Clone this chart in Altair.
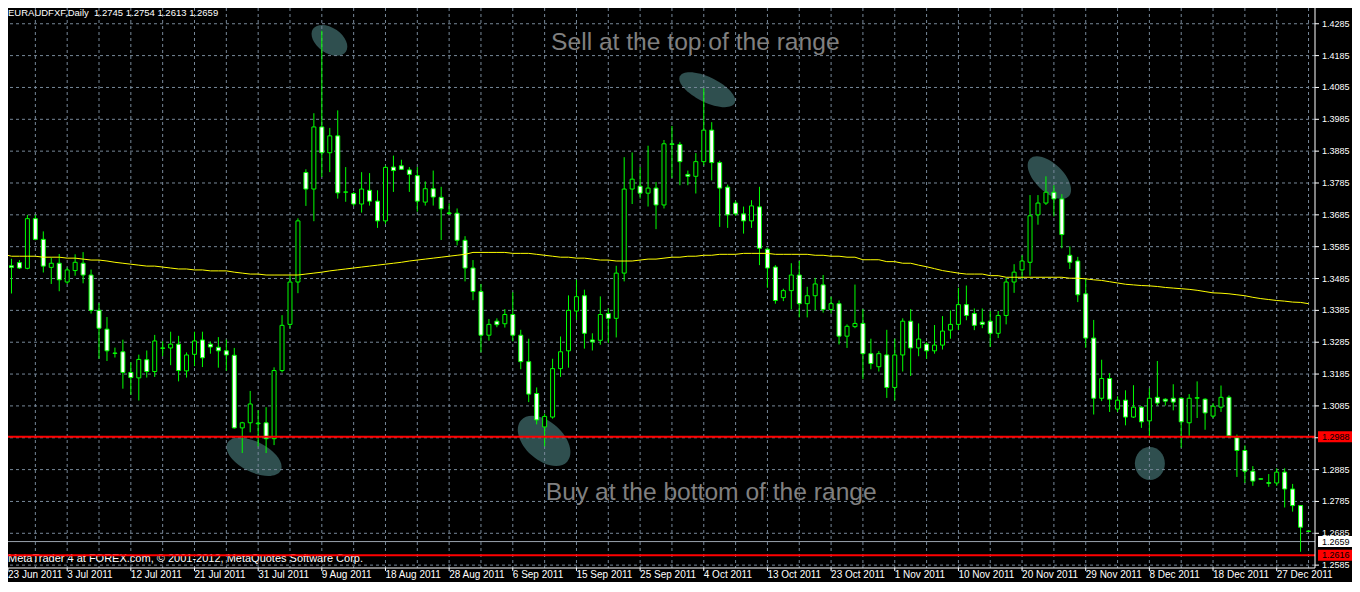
import altair as alt
import pandas as pd

# ---------------- data ----------------
dates = ["23 Jun 2011", "3 Jul 2011", "12 Jul 2011", "21 Jul 2011", "31 Jul 2011",
         "9 Aug 2011", "18 Aug 2011", "28 Aug 2011", "6 Sep 2011", "15 Sep 2011",
         "25 Sep 2011", "4 Oct 2011", "13 Oct 2011", "23 Oct 2011", "1 Nov 2011",
         "10 Nov 2011", "20 Nov 2011", "29 Nov 2011", "8 Dec 2011", "18 Dec 2011",
         "27 Dec 2011"]

opens = [1.3571, 1.3525, 1.3535, 1.3517, 1.3673, 1.3608, 1.3520, 1.3533, 1.3474, 1.3510,
         1.3533, 1.3496, 1.3385, 1.3326, 1.3251, 1.3255, 1.3190, 1.3173, 1.3230, 1.3193,
         1.3267, 1.3267, 1.3279, 1.3195, 1.3247, 1.3292, 1.3279, 1.3269, 1.3258, 1.3244,
         1.3016, 1.3032, 1.3029, 1.3032, 1.2982, 1.3196, 1.3341, 1.3474, 1.3818, 1.3766,
         1.3961, 1.3880, 1.3933, 1.3756, 1.3752, 1.3719, 1.3762, 1.3728, 1.3666, 1.3835,
         1.3839, 1.3826, 1.3808, 1.3725, 1.3767, 1.3740, 1.3691, 1.3690, 1.3605, 1.3518,
         1.3444, 1.3307, 1.3351, 1.3343, 1.3372, 1.3307, 1.3224, 1.3124, 1.3019, 1.3050,
         1.3202, 1.3258, 1.3383, 1.3431, 1.3292, 1.3291, 1.3375, 1.3360, 1.3502, 1.3766,
         1.3775, 1.3753, 1.3769, 1.3716, 1.3908, 1.3906, 1.3812, 1.3806, 1.3852, 1.3951,
         1.3849, 1.3772, 1.3722, 1.3688, 1.3666, 1.3710, 1.3577, 1.3521, 1.3425, 1.3447,
         1.3496, 1.3406, 1.3431, 1.3465, 1.3388, 1.3406, 1.3304, 1.3334, 1.3344, 1.3249,
         1.3208, 1.3245, 1.3143, 1.3245, 1.3351, 1.3267, 1.3279, 1.3258, 1.3276, 1.3323,
         1.3341, 1.3403, 1.3375, 1.3348, 1.3351, 1.3313, 1.3369, 1.3474, 1.3512, 1.3536,
         1.3685, 1.3722, 1.3756, 1.3735, 1.3558, 1.3540, 1.3437, 1.3298, 1.3109, 1.3171,
         1.3075, 1.3103, 1.3050, 1.3081, 1.3038, 1.3112, 1.3106, 1.3109, 1.3109, 1.3032,
         1.3109, 1.3106, 1.3053, 1.3081, 1.3112, 1.2985, 1.2945, 1.2880, 1.2856, 1.2844,
         1.2843, 1.2877, 1.2824, 1.2772, 1.2692]

highs = [1.3578, 1.3547, 1.3543, 1.3685, 1.3685, 1.3633, 1.3551, 1.3562, 1.3520, 1.3561,
         1.3568, 1.3513, 1.3407, 1.3364, 1.3268, 1.3293, 1.3222, 1.3246, 1.3259, 1.3308,
         1.3288, 1.3318, 1.3305, 1.3253, 1.3318, 1.3318, 1.3287, 1.3301, 1.3293, 1.3267,
         1.3035, 1.3132, 1.3071, 1.3081, 1.3206, 1.3370, 1.3494, 1.3674, 1.3828, 1.4004,
         1.4263, 1.3958, 1.4013, 1.3835, 1.3757, 1.3819, 1.3816, 1.3762, 1.3840, 1.3871,
         1.3858, 1.3835, 1.3835, 1.3790, 1.3824, 1.3773, 1.3721, 1.3705, 1.3618, 1.3543,
         1.3468, 1.3358, 1.3360, 1.3389, 1.3442, 1.3324, 1.3296, 1.3143, 1.3061, 1.3233,
         1.3303, 1.3432, 1.3481, 1.3450, 1.3313, 1.3429, 1.3391, 1.3525, 1.3866, 1.3881,
         1.3835, 1.3902, 1.3788, 1.3920, 1.3964, 1.3914, 1.3824, 1.3879, 1.4082, 1.3976,
         1.3855, 1.3780, 1.3729, 1.3711, 1.3731, 1.3773, 1.3582, 1.3527, 1.3453, 1.3533,
         1.3540, 1.3459, 1.3487, 1.3496, 1.3428, 1.3416, 1.3341, 1.3466, 1.3389, 1.3296,
         1.3257, 1.3324, 1.3296, 1.3360, 1.3389, 1.3344, 1.3285, 1.3339, 1.3367, 1.3385,
         1.3456, 1.3463, 1.3391, 1.3391, 1.3383, 1.3383, 1.3487, 1.3530, 1.3558, 1.3747,
         1.3747, 1.3806, 1.3778, 1.3750, 1.3586, 1.3553, 1.3484, 1.3355, 1.3230, 1.3188,
         1.3115, 1.3134, 1.3150, 1.3084, 1.3140, 1.3226, 1.3109, 1.3153, 1.3112, 1.3122,
         1.3162, 1.3109, 1.3094, 1.3149, 1.3118, 1.2995, 1.2961, 1.2896, 1.2857, 1.2871,
         1.2889, 1.2889, 1.2840, 1.2772, 1.2693]

lows = [1.3500, 1.3438, 1.3515, 1.3514, 1.3605, 1.3504, 1.3468, 1.3445, 1.3468, 1.3494,
        1.3470, 1.3375, 1.3233, 1.3226, 1.3237, 1.3139, 1.3120, 1.3102, 1.3174, 1.3176,
        1.3241, 1.3213, 1.3162, 1.3174, 1.3210, 1.3207, 1.3249, 1.3205, 1.3195, 1.3014,
        1.2937, 1.3002, 1.2958, 1.2937, 1.2962, 1.3190, 1.3329, 1.3439, 1.3713, 1.3665,
        1.3804, 1.3819, 1.3736, 1.3726, 1.3713, 1.3692, 1.3714, 1.3644, 1.3657, 1.3757,
        1.3826, 1.3757, 1.3695, 1.3714, 1.3714, 1.3606, 1.3685, 1.3589, 1.3476, 1.3417,
        1.3253, 1.3290, 1.3332, 1.3331, 1.3288, 1.3200, 1.3097, 1.3027, 1.2958, 1.3045,
        1.3176, 1.3205, 1.3355, 1.3265, 1.3259, 1.3277, 1.3283, 1.3300, 1.3476, 1.3719,
        1.3736, 1.3711, 1.3640, 1.3705, 1.3801, 1.3778, 1.3778, 1.3752, 1.3840, 1.3793,
        1.3647, 1.3644, 1.3682, 1.3626, 1.3644, 1.3527, 1.3456, 1.3406, 1.3414, 1.3388,
        1.3363, 1.3363, 1.3385, 1.3378, 1.3375, 1.3278, 1.3267, 1.3329, 1.3169, 1.3200,
        1.3193, 1.3110, 1.3102, 1.3193, 1.3179, 1.3241, 1.3233, 1.3249, 1.3262, 1.3296,
        1.3323, 1.3354, 1.3323, 1.3329, 1.3270, 1.3298, 1.3341, 1.3440, 1.3484, 1.3494,
        1.3654, 1.3716, 1.3680, 1.3580, 1.3515, 1.3411, 1.3267, 1.3058, 1.3100, 1.3066,
        1.3066, 1.3024, 1.3047, 1.3016, 1.2988, 1.3086, 1.3086, 1.3071, 1.2954, 1.2991,
        1.3047, 1.3010, 1.3047, 1.3066, 1.2985, 1.2862, 1.2843, 1.2834, 1.2854, 1.2831,
        1.2834, 1.2766, 1.2753, 1.2627, 1.2690]

closes = [1.3530, 1.3520, 1.3518, 1.3673, 1.3608, 1.3524, 1.3533, 1.3481, 1.3512, 1.3536,
          1.3496, 1.3385, 1.3329, 1.3258, 1.3250, 1.3190, 1.3174, 1.3231, 1.3193, 1.3289,
          1.3266, 1.3279, 1.3196, 1.3245, 1.3289, 1.3236, 1.3270, 1.3258, 1.3245, 1.3016,
          1.3032, 1.3091, 1.3031, 1.2982, 1.3196, 1.3338, 1.3474, 1.3666, 1.3766, 1.3961,
          1.3880, 1.3933, 1.3754, 1.3757, 1.3719, 1.3766, 1.3728, 1.3666, 1.3834, 1.3824,
          1.3828, 1.3812, 1.3728, 1.3767, 1.3741, 1.3704, 1.3689, 1.3605, 1.3518, 1.3444,
          1.3307, 1.3341, 1.3340, 1.3372, 1.3307, 1.3224, 1.3122, 1.3041, 1.3052, 1.3202,
          1.3255, 1.3385, 1.3428, 1.3313, 1.3286, 1.3372, 1.3360, 1.3502, 1.3766, 1.3797,
          1.3753, 1.3769, 1.3716, 1.3908, 1.3906, 1.3852, 1.3806, 1.3852, 1.3951, 1.3849,
          1.3769, 1.3685, 1.3688, 1.3666, 1.3713, 1.3580, 1.3518, 1.3416, 1.3447, 1.3496,
          1.3406, 1.3431, 1.3468, 1.3388, 1.3406, 1.3304, 1.3335, 1.3344, 1.3249, 1.3218,
          1.3249, 1.3143, 1.3245, 1.3351, 1.3267, 1.3295, 1.3258, 1.3276, 1.3320, 1.3341,
          1.3403, 1.3369, 1.3338, 1.3341, 1.3313, 1.3369, 1.3474, 1.3505, 1.3540, 1.3682,
          1.3722, 1.3756, 1.3735, 1.3623, 1.3536, 1.3434, 1.3298, 1.3109, 1.3171, 1.3106,
          1.3103, 1.3050, 1.3081, 1.3035, 1.3109, 1.3094, 1.3100, 1.3097, 1.3035, 1.3109,
          1.3111, 1.3063, 1.3084, 1.3112, 1.2991, 1.2945, 1.2880, 1.2849, 1.2855, 1.2842,
          1.2877, 1.2824, 1.2772, 1.2704, 1.2691]

# moving average (yellow line)
ma = [1.3561, 1.3555, 1.3555, 1.3555, 1.3555, 1.3552, 1.3552, 1.3552, 1.3549, 1.3549,
      1.3546, 1.3543, 1.3543, 1.3540, 1.3536, 1.3533, 1.3530, 1.3527, 1.3524, 1.3524,
      1.3521, 1.3518, 1.3515, 1.3515, 1.3512, 1.3512, 1.3509, 1.3509, 1.3509, 1.3505,
      1.3502, 1.3499, 1.3499, 1.3496, 1.3496, 1.3496, 1.3496, 1.3496, 1.3499, 1.3502,
      1.3505, 1.3509, 1.3512, 1.3515, 1.3518, 1.3521, 1.3524, 1.3527, 1.3530, 1.3533,
      1.3536, 1.3540, 1.3543, 1.3546, 1.3549, 1.3552, 1.3555, 1.3558, 1.3561, 1.3567,
      1.3567, 1.3567, 1.3567, 1.3567, 1.3564, 1.3564, 1.3564, 1.3561, 1.3558, 1.3555,
      1.3552, 1.3552, 1.3549, 1.3549, 1.3546, 1.3543, 1.3543, 1.3540, 1.3540, 1.3540,
      1.3543, 1.3546, 1.3546, 1.3549, 1.3552, 1.3552, 1.3555, 1.3555, 1.3558, 1.3558,
      1.3561, 1.3561, 1.3561, 1.3564, 1.3564, 1.3564, 1.3564, 1.3561, 1.3561, 1.3561,
      1.3561, 1.3561, 1.3558, 1.3558, 1.3555, 1.3555, 1.3552, 1.3552, 1.3544, 1.3544,
      1.3544, 1.3538, 1.3538, 1.3533, 1.3533, 1.3527, 1.3522, 1.3516, 1.3510, 1.3506,
      1.3502, 1.3499, 1.3499, 1.3499, 1.3494, 1.3494, 1.3489, 1.3489, 1.3489, 1.3489,
      1.3489, 1.3489, 1.3489, 1.3489, 1.3486, 1.3486, 1.3484, 1.3481, 1.3479, 1.3475,
      1.3471, 1.3467, 1.3465, 1.3463, 1.3462, 1.3460, 1.3457, 1.3455, 1.3453, 1.3451,
      1.3448, 1.3444, 1.3440, 1.3439, 1.3437, 1.3434, 1.3431, 1.3426, 1.3422, 1.3419,
      1.3416, 1.3414, 1.3411, 1.3410, 1.3406]

price_ticks = [1.2585, 1.2685, 1.2785, 1.2885, 1.2985, 1.3085, 1.3185, 1.3285, 1.3385,
               1.3485, 1.3585, 1.3685, 1.3785, 1.3885, 1.3985, 1.4085, 1.4185, 1.4285]
label_bars = [0, 8, 16, 24, 32, 40, 48, 56, 64, 72, 80, 88, 96, 104, 112, 120,
              128, 136, 144, 152, 160]
grid_bars = [4, 8, 12, 16, 20, 24, 28, 32, 36, 40, 44, 48, 52, 56, 60, 64, 68, 72, 76, 80,
             84, 88, 92, 96, 100, 104, 108, 112, 116, 120, 124, 128, 132, 136, 140, 144,
             148, 152, 156, 160, 164]

support_level = 1.2988
stop_level = 1.2616
bid_level = 1.2659

title_text = "EURAUDFXF,Daily\u00a0 1.2745 1.2754 1.2613 1.2659"
copyright_text = "MetaTrader 4 at FOREX.com, \u00a9 2001-2012, MetaQuotes Software Corp."
notes = ["Sell at the top of the range", "Buy at the bottom of the range"]

# highlighted areas (centre bar index, centre price)
blob_bar = [40.96, 88.44, 131.44, 31.48, 67.94, 144.06]
blob_price = [1.4233, 1.4078, 1.3802, 1.2925, 1.2975, 1.2904]

n = len(opens)
assert len(highs) == n and len(lows) == n and len(closes) == n and len(ma) == n

# ---------------- layout / style ----------------
W, H = 1307, 560            # plot area; right/bottom padding hold the scales
PAD_R, PAD_B = 37, 14
X0, X1 = 0.5625, 164.8125
Y0, Y1 = 1.2576, 1.43345
FONT = "Liberation Sans"
GRID = "#778899"
LIME = "#00ff00"

xsc = alt.Scale(domain=[X0, X1], nice=False, zero=False)
ysc = alt.Scale(domain=[Y0, Y1], nice=False, zero=False)


def X(f):
    return alt.X(f, scale=xsc, axis=None)


def Y(f):
    return alt.Y(f, scale=ysc, axis=None)


bars = pd.DataFrame({"i": list(range(n)), "o": opens, "h": highs, "l": lows,
                     "c": closes, "ma": ma})

# ellipses (teal highlight areas)
shape_a = [20, 30.5, 27, 30, 31, 16.5]
shape_b = [12.6, 12.5, 14, 15, 19, 15]
shape_ang = [35, 26, 44, 27, 42, 90]
blobs = pd.DataFrame({
    "i": blob_bar, "p": blob_price,
    "path": ["M-1,0A1,%.4f 0 1,1 1,0A1,%.4f 0 1,1 -1,0Z" % (b / a, b / a)
             for a, b in zip(shape_a, shape_b)],
    "sz": [(2 * a) ** 2 for a in shape_a],
    "ang": shape_ang,
})
blob_layer = alt.Chart(blobs).mark_point(filled=True, opacity=1, color="#2f4f4f",
                                         strokeWidth=0, clip=True).encode(
    x=X("i:Q"), y=Y("p:Q"),
    shape=alt.Shape("path:N", scale=None),
    size=alt.Size("sz:Q", scale=None),
    angle=alt.Angle("ang:Q", scale=None),
)

# dotted grid
vgrid = alt.Chart(pd.DataFrame({"i": grid_bars})).mark_rule(
    color=GRID, strokeWidth=1, strokeDash=[3, 3], clip=True).encode(x=X("i:Q"))
hgrid = alt.Chart(pd.DataFrame({"p": price_ticks})).mark_rule(
    color=GRID, strokeWidth=1, strokeDash=[3, 3], clip=True).encode(y=Y("p:Q"))

bid_line = alt.Chart(pd.DataFrame({"p": [bid_level]})).mark_rule(
    color="#9aa4ae", strokeWidth=1, clip=True).encode(y=Y("p:Q"))

info_df = pd.DataFrame({"i": [X0, X0], "p": [1.4320, 1.2604],
                        "t": [title_text, copyright_text], "fs": [9.5, 11]})
info_layer = alt.Chart(info_df).mark_text(
    align="left", baseline="middle", font=FONT, color="white").encode(
    x=X("i:Q"), y=Y("p:Q"), text="t:N", size=alt.Size("fs:Q", scale=None))

wicks = alt.Chart(bars).mark_rule(color=LIME, strokeWidth=1, clip=True).encode(
    x=X("i:Q"), y=Y("l:Q"), y2="h:Q")

bodies = alt.Chart(bars).transform_calculate(
    xa="datum.i - 0.25", xb="datum.i + 0.25",
    kind="datum.c < datum.o ? 'bear' : 'bull'",
).mark_rect(stroke=LIME, strokeWidth=1, clip=True).encode(
    x=X("xa:Q"), x2="xb:Q", y=Y("o:Q"), y2="c:Q",
    fill=alt.Fill("kind:N", scale=alt.Scale(domain=["bear", "bull"],
                                             range=["white", "black"]), legend=None),
)

ma_line = alt.Chart(bars).mark_line(color="#ffff00", strokeWidth=1, clip=True).encode(
    x=X("i:Q"), y=Y("ma:Q"))

red_lines = alt.Chart(pd.DataFrame({"p": [support_level, stop_level]})).mark_rule(
    color="#ff0000", strokeWidth=2, clip=True).encode(y=Y("p:Q"))

note_df = pd.DataFrame({"i": [86.94, 88.94], "p": [1.4226, 1.2811], "t": notes})
note_layer = alt.Chart(note_df).mark_text(font=FONT, fontSize=24.6, color="#808080",
                                          baseline="middle", align="center").encode(
    x=X("i:Q"), y=Y("p:Q"), text="t:N")

# ---- scales drawn as marks: frame, ticks, labels ----
frame_r = alt.Chart(pd.DataFrame({"k": [0]})).mark_rule(color="white", strokeWidth=1).encode(
    x=alt.value(W), y=alt.value(0), y2=alt.value(H))
frame_b = alt.Chart(pd.DataFrame({"k": [0]})).mark_rule(color="white", strokeWidth=1).encode(
    x=alt.value(0), x2=alt.value(W), y=alt.value(H))

ydf = pd.DataFrame({"p": price_ticks, "t": ["%.4f" % v for v in price_ticks]})
y_ticks = alt.Chart(ydf).mark_rule(color="white", strokeWidth=1).encode(
    y=Y("p:Q"), x=alt.value(W), x2=alt.value(W + 4))
y_labels = alt.Chart(ydf).mark_text(align="left", baseline="middle", font=FONT,
                                    fontSize=9, color="white").encode(
    y=Y("p:Q"), x=alt.value(W + 7), text="t:N")

xdf = pd.DataFrame({"b": [X0] + label_bars[1:], "t": dates})
x_ticks = alt.Chart(xdf).mark_rule(color="white", strokeWidth=1).encode(
    x=X("b:Q"), y=alt.value(H), y2=alt.value(H + 3))
x_labels = alt.Chart(xdf).mark_text(align="left", baseline="top", font=FONT,
                                    fontSize=10, color="white", dy=2).encode(
    x=X("b:Q"), y=alt.value(H), text="t:N")

# price tags on the right scale
tags = pd.DataFrame({
    "p": [support_level, bid_level, stop_level],
    "t": ["%.4f" % support_level, "%.4f" % bid_level, "%.4f" % stop_level],
    "bg": ["red", "white", "red"],
})
tag_box = alt.Chart(tags).mark_tick(orient="horizontal", thickness=11, size=34,
                                    opacity=1).encode(
    x=alt.value(W + 20), y=Y("p:Q"), color=alt.Color("bg:N", scale=None))
tag_text = alt.Chart(tags).mark_text(align="left", baseline="middle", font=FONT,
                                     fontSize=9, color="black").encode(
    x=alt.value(W + 7), y=Y("p:Q"), text="t:N")

chart = alt.layer(
    blob_layer, vgrid, hgrid, bid_line, info_layer, wicks, bodies, ma_line,
    red_lines, note_layer, frame_r, frame_b, y_ticks, y_labels, x_ticks, x_labels,
    tag_box, tag_text,
).properties(
    width=W, height=H, background="black",
    padding={"left": 0, "top": 0, "right": PAD_R, "bottom": PAD_B},
    autosize=alt.AutoSizeParams(type="none"),
).configure_view(stroke=None)

chart.save("out.html", embed_options={"renderer": "svg", "actions": False})
